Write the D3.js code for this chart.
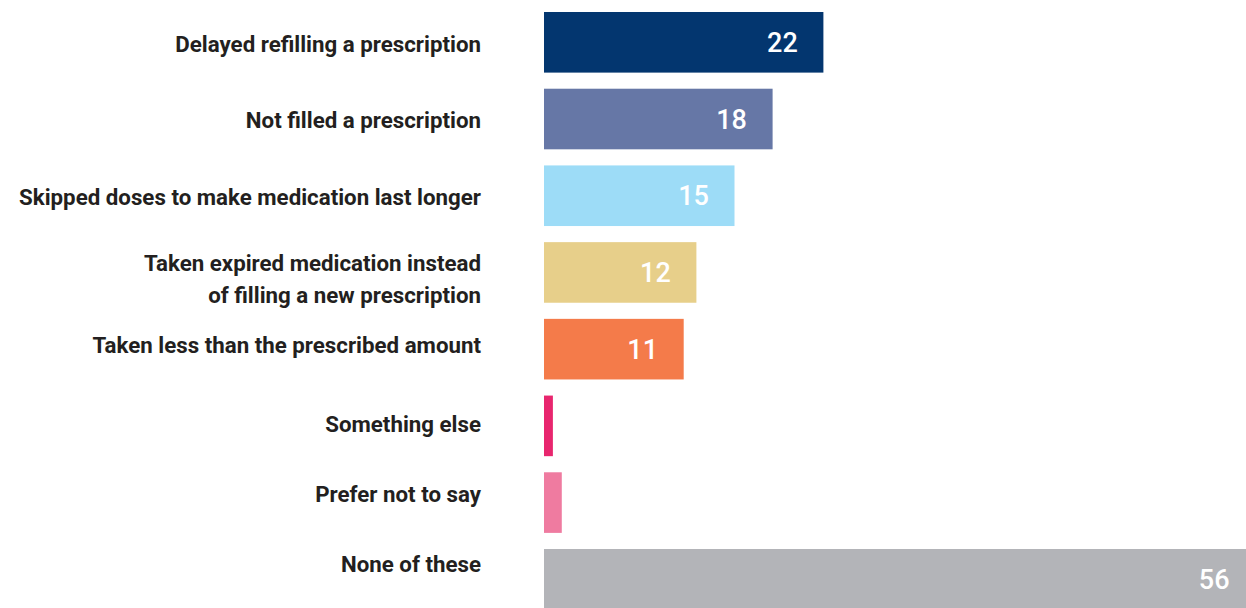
<!DOCTYPE html>
<html>
<head>
<meta charset="utf-8">
<script src="https://cdn.jsdelivr.net/npm/d3@7"></script>
<style>
  html, body { margin: 0; padding: 0; background: #ffffff; }
  svg { display: block; }
</style>
</head>
<body>
<svg id="chart" width="1246" height="608"></svg>
<script>
// Survey answers: actions taken with prescribed medication (%)
const categories = [
  ["Delayed refilling a prescription"],
  ["Not filled a prescription"],
  ["Skipped doses to make medication last longer"],
  ["Taken expired medication instead", "of filling a new prescription"],
  ["Taken less than the prescribed amount"],
  ["Something else"],
  ["Prefer not to say"],
  ["None of these"]
];
const values = [22, 18, 15, 12, 11, 0.7, 1.4, 56];
const valueLabels = ["22", "18", "15", "12", "11", "", "", "56"];
const colors = ["#03366f", "#6677a6", "#9ddcf7", "#e7cf8a", "#f47b4a", "#e8266e", "#ef7ba0", "#b3b4b8"];

const W = 1246, H = 608;
const svg = d3.select("#chart");

const x0 = 544;
const x = d3.scaleLinear().domain([0, 56]).range([x0, x0 + 56 * 12.7]);

const idx = d3.range(values.length);
const y = d3.scaleBand()
  .domain(idx)
  .range([12, 12 + 8 * 76.7 - 16])
  .paddingInner(0.21)
  .paddingOuter(0);

// bars
svg.append("g").selectAll("rect")
  .data(idx)
  .join("rect")
  .attr("x", x(0))
  .attr("y", i => y(i))
  .attr("width", i => x(values[i]) - x(0))
  .attr("height", y.bandwidth())
  .attr("fill", i => colors[i]);

// value labels inside the bars
svg.append("g").selectAll("text")
  .data(idx.filter(i => valueLabels[i] !== ""))
  .join("text")
  .attr("x", i => x(values[i]) - 41)
  .attr("y", i => y(i) + y.bandwidth() / 2)
  .attr("dy", "0.36em")
  .attr("text-anchor", "middle")
  .attr("fill", "#ffffff")
  .style("font-family", "Roboto, sans-serif")
  .style("font-weight", 500)
  .style("font-size", "27px")
  .text(i => valueLabels[i]);

// category labels, right aligned against the bars
const labelRight = 481;
const squeeze = 0.97;
const nudge = [1, 0.6, 0.9, 6.5, -4.2, -2.4, -8.6, -15.3];
const lineGap = 31.6;
const capHalf = 8.3;

const labels = svg.append("g")
  .attr("transform", `translate(${labelRight},0) scale(${squeeze},1)`);

idx.forEach(i => {
  const lines = categories[i];
  const mid = y(i) + y.bandwidth() / 2 + nudge[i];
  const firstBase = mid + capHalf - (lines.length - 1) * lineGap / 2;
  const t = labels.append("text")
    .attr("text-anchor", "end")
    .attr("fill", "#231f20")
    .style("font-family", "Roboto, sans-serif")
    .style("font-weight", 700)
    .style("font-size", "23px");
  lines.forEach((ln, k) => {
    t.append("tspan")
      .attr("x", 0)
      .attr("y", firstBase + k * lineGap)
      .text(ln);
  });
});
</script>
</body>
</html>
